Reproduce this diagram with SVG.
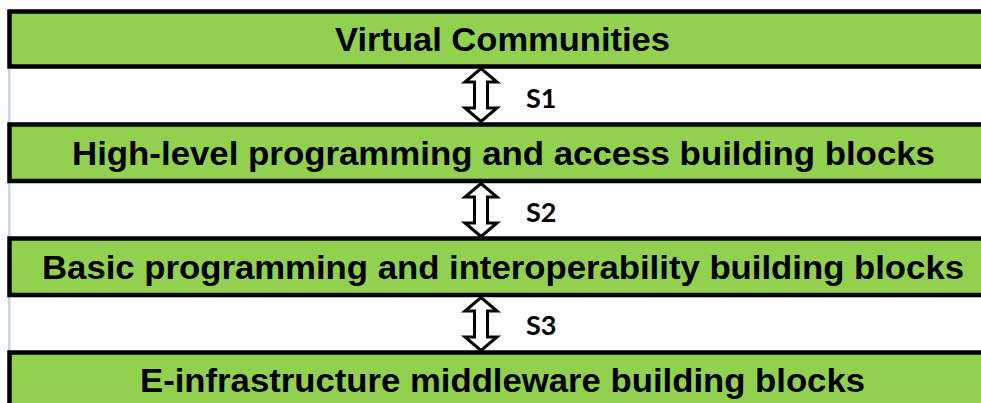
<svg xmlns="http://www.w3.org/2000/svg" width="981" height="403" viewBox="0 0 981 403">
<style>
.box{fill:#92d050;stroke:#000;stroke-width:4.5}
.lbl{font-family:"Liberation Sans",Arial,sans-serif;font-weight:bold;font-size:33px;fill:#000}
.arr{fill:#fff;stroke:#000;stroke-width:3;stroke-linejoin:miter}
.s{font-family:Lato,"Open Sans",sans-serif;font-weight:bold;font-size:27px;fill:#000}
</style>
<defs>
<path id="dblarrow" d="M0,0 L16,13.5 L6.5,13.5 L6.5,39.5 L16,39.5 L0,53 L-16,39.5 L-6.5,39.5 L-6.5,13.5 L-16,13.5 Z"/>
</defs>
<rect x="8" y="66" width="2.5" height="288" fill="#cad5e8"/>
<g id="node-virtual-communities">
<rect class="box" x="9.5" y="11.5" width="990" height="55"/>
<text class="lbl" x="335" y="51" textLength="335" lengthAdjust="spacingAndGlyphs">Virtual Communities</text>
</g>
<g id="node-high-level">
<rect class="box" x="9.5" y="124.5" width="990" height="56.5"/>
<text class="lbl" x="72" y="165" textLength="863" lengthAdjust="spacingAndGlyphs">High-level programming and access building blocks</text>
</g>
<g id="node-basic">
<rect class="box" x="9.5" y="238.5" width="990" height="56.5"/>
<text class="lbl" x="42" y="279" textLength="922" lengthAdjust="spacingAndGlyphs" style="font-size:34px">Basic programming and interoperability building blocks</text>
</g>
<g id="node-e-infrastructure">
<rect class="box" x="9.5" y="352.5" width="990" height="60"/>
<text class="lbl" x="140" y="392" textLength="725" lengthAdjust="spacingAndGlyphs" style="font-size:34px">E-infrastructure middleware building blocks</text>
</g>
<g id="connectors">
<use href="#dblarrow" class="arr" x="481" y="68.5"/>
<text class="s" x="526" y="108">S1</text>
<use href="#dblarrow" class="arr" x="481" y="183.5"/>
<text class="s" x="526" y="222">S2</text>
<use href="#dblarrow" class="arr" x="481" y="297.5"/>
<text class="s" x="526" y="335">S3</text>
</g>
</svg>
